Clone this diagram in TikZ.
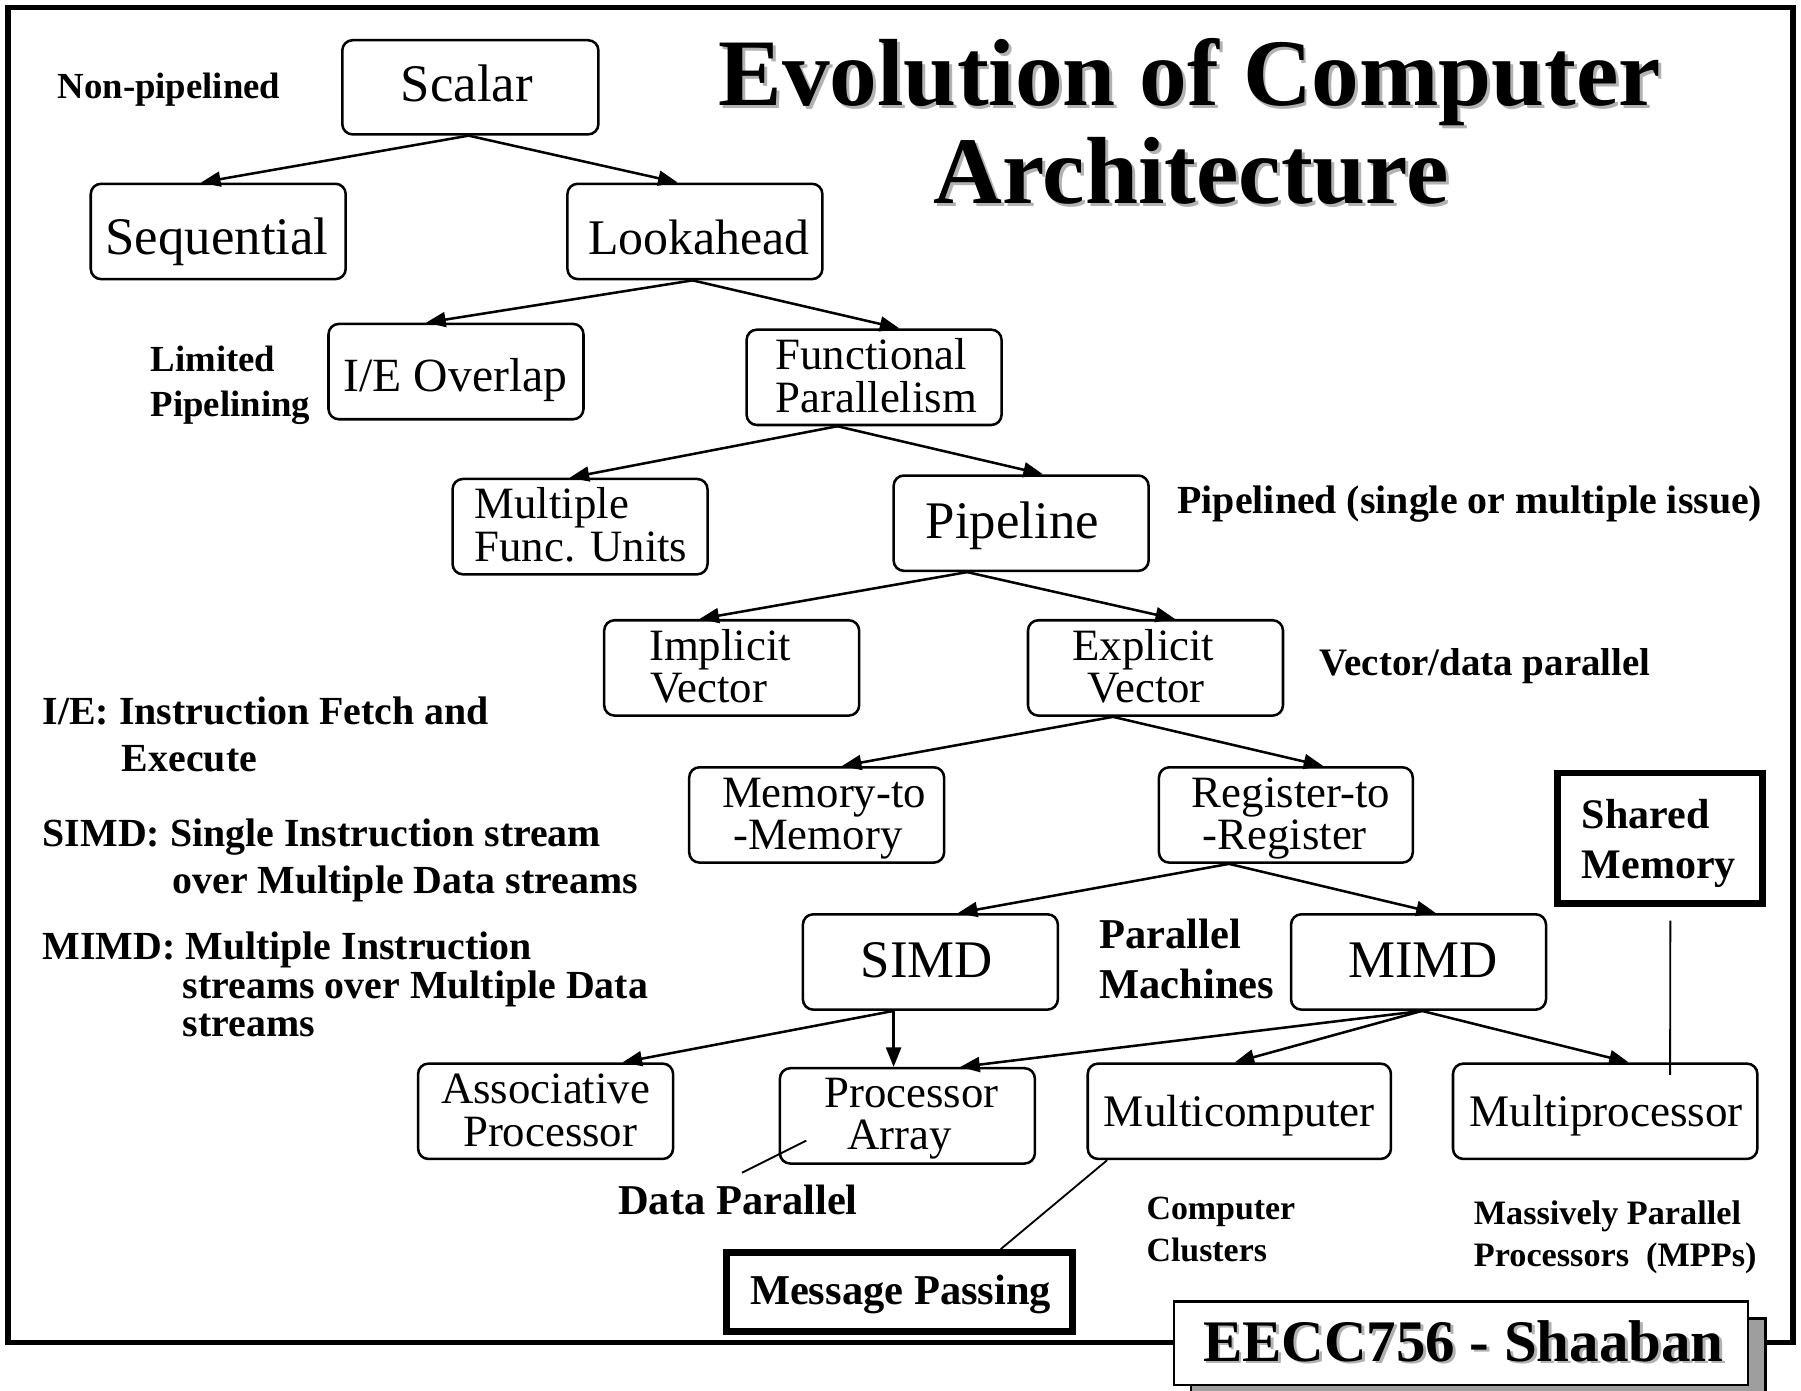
\documentclass[tikz,border=0pt]{standalone}
\usepackage{fontspec}
\setmainfont{Liberation Serif}
\usetikzlibrary{arrows.meta}
\newcommand{\fsz}[1]{\fontsize{#1pt}{#1pt}\selectfont}
\begin{document}
\begin{tikzpicture}[x=1pt,y=-1pt,
  box/.style={draw, rounded corners=9pt, line width=2.2pt, inner sep=0pt,
              minimum width=222pt, minimum height=83pt},
  heavybox/.style={draw, line width=6pt, inner sep=0pt},
  arr/.style={line width=2.2pt, -{Triangle[length=17pt,width=13pt]}},
  link/.style={line width=1.6pt},
  txt/.style={inner sep=0pt, anchor=base},
  ltxt/.style={inner sep=0pt, anchor=base west},
  big/.style={font=\fsz{46}},
  small/.style={font=\fsz{39}},
  note/.style={font=\bfseries\fsz{34.7}},
]
% page and outer frame
\clip (0,0) rectangle (1568,1211);
\fill[white] (0,0) rectangle (1568,1211);
\draw[line width=4.5pt] (7,6.5) rectangle (1561,1169);

% title with drop shadow
\node[txt, font=\bfseries\fsz{83}, text=black!30] (titleAs) at (1038.5,94.5) {Evolution of Computer};
\node[txt, font=\bfseries\fsz{83}, text=black!30] (titleBs) at (1039.5,179.5) {Architecture};
\node[txt, font=\bfseries\fsz{83}] (titleA) at (1036,92) {Evolution of Computer};
\node[txt, font=\bfseries\fsz{83}] (titleB) at (1037,177) {Architecture};

% boxes
\node[box] (scalar) at (409.5,76) [minimum width=223pt, minimum height=82pt] {};
\node[box] (seq)    at (190,201.5) {};
\node[box] (look)   at (605,201.5) {};
\node[box] (ieo)    at (397,323.5) {};
\node[box] (func)   at (761,328.5) {};
\node[box] (mfu)    at (505,458.5) {};
\node[box] (pipe)   at (889,455.5) {};
\node[box] (impl)   at (637,581.5) {};
\node[box] (expl)   at (1006,581.5) {};
\node[box] (mm)     at (711,709.5) {};
\node[box] (rr)     at (1119.5,709.5) [minimum width=221pt] {};
\node[box] (simd)   at (810,837.5) {};
\node[box] (mimd)   at (1235,837.5) {};
\node[box] (assoc)  at (475,967.5) {};
\node[box] (parr)   at (790,971.5) {};
\node[box] (mcomp)  at (1079,967.5) [minimum width=264pt] {};
\node[box] (mproc)  at (1397.5,967.5) [minimum width=265pt] {};

\node[heavybox, minimum width=178.5pt, minimum height=113.5pt] (shm) at (1445.25,729.75) {};
\node[heavybox, minimum width=301.5pt, minimum height=68.5pt] (msgp) at (783.25,1124.75) {};

% box texts
\node[txt, big] (tScalar) at (406.5,88.5) {Scalar};
\node[txt, big] (tSeq) at (189,222) {Sequential};
\node[txt, font=\fsz{43.4}] (tLook) at (608.5,222) {Lookahead};
\node[txt, font=\fsz{41.5}] (tIeo) at (396.5,341) {I/E Overlap};
\node[ltxt, small] (tFuncA) at (675,322) {Functional};
\node[ltxt, small] (tFuncB) at (675,359) {Parallelism};
\node[ltxt, small] (tMfuA) at (413,451) {Multiple};
\node[ltxt, small] (tMfuB) at (413,489) {Func. Units};
\node[txt, big] (tPipe) at (881.5,468.5) {Pipeline};
\node[ltxt, small] (tImplA) at (565,575) {Implicit};
\node[ltxt, small] (tImplB) at (566,612) {Vector};
\node[txt, small] (tExplA) at (995.5,575) {Explicit};
\node[txt, small] (tExplB) at (998,612) {Vector};
\node[txt, small] (tMmA) at (717.5,703) {Memory-to};
\node[txt, small] (tMmB) at (712,740) {-Memory};
\node[txt, small] (tRrA) at (1124,703) {Register-to};
\node[txt, small] (tRrB) at (1118.5,740) {-Register};
\node[txt, big] (tSimd) at (807,851) {SIMD};
\node[txt, big] (tMimd) at (1239,851) {MIMD};
\node[txt, small] (tAssocA) at (475,961) {Associative};
\node[txt, small] (tAssocB) at (479,998) {Processor};
\node[txt, small] (tParrA) at (793.5,964) {Processor};
\node[txt, small] (tParrB) at (783,1001) {Array};
\node[txt, font=\fsz{39.3}] (tMcomp) at (1079,981) {Multicomputer};
\node[txt, font=\fsz{39.3}] (tMproc) at (1398.5,981) {Multiprocessor};
\node[ltxt, font=\bfseries\fsz{36.6}] (tShmA) at (1377,721) {Shared};
\node[ltxt, font=\bfseries\fsz{36.6}] (tShmB) at (1377,764.6) {Memory};
\node[txt, font=\bfseries\fsz{37}] (tMsg) at (784,1136) {Message Passing};

% tree arrows
\draw[arr] ([xshift=-1.5pt]scalar.south) -- ([xshift=-15pt]seq.north);
\draw[arr] ([xshift=-1.5pt]scalar.south) -- ([xshift=-15pt]look.north);
\draw[arr] ([xshift=-2pt]look.south) -- ([xshift=-26pt]ieo.north);
\draw[arr] ([xshift=-2pt]look.south) -- ([xshift=22pt]func.north);
\draw[arr] ([xshift=-32pt]func.south) -- ([xshift=-9pt]mfu.north);
\draw[arr] ([xshift=-32pt]func.south) -- ([xshift=19pt]pipe.north);
\draw[arr] ([xshift=-47pt]pipe.south) -- ([xshift=-28pt]impl.north);
\draw[arr] ([xshift=-47pt]pipe.south) -- ([xshift=17pt]expl.north);
\draw[arr] ([xshift=-37pt]expl.south) -- ([xshift=22pt]mm.north);
\draw[arr] ([xshift=-37pt]expl.south) -- ([xshift=32.5pt]rr.north);
\draw[arr] ([xshift=-49.5pt]rr.south) -- ([xshift=24pt]simd.north);
\draw[arr] ([xshift=-49.5pt]rr.south) -- ([xshift=15pt]mimd.north);
\draw[arr] ([xshift=-32pt]simd.south) -- ([xshift=67pt]assoc.north);
\draw[arr] ([xshift=-32pt]simd.south) -- ([xshift=-12pt]parr.north);
\draw[arr] ([xshift=3pt]mimd.south) -- ([xshift=46pt]parr.north);
\draw[arr] ([xshift=3pt]mimd.south) -- ([xshift=-4pt]mcomp.north);
\draw[arr] ([xshift=3pt]mimd.south) -- ([xshift=20.5pt]mproc.north);

% plain pointer lines
\coordinate (dpEnd) at (646,1021);
\coordinate (dpTip) at (702,993);
\draw[link] (dpEnd) -- (dpTip);
\draw[link] ([xshift=18pt]mcomp.south west) -- ([xshift=88pt]msgp.north);
\draw[link] ([xshift=9pt,yshift=-12pt]shm.south) -- ([xshift=56.5pt,yshift=-11pt]mproc.north);

% side labels
\node[ltxt, font=\bfseries\fsz{32}] (lNonp) at (50,86) {Non-pipelined};
\node[ltxt, font=\bfseries\fsz{32}] (lLimA) at (131,323.5) {Limited};
\node[ltxt, font=\bfseries\fsz{32}] (lLimB) at (131,363) {Pipelining};
\node[ltxt, font=\bfseries\fsz{34.7}] (lPiped) at (1025,447) {Pipelined (single or multiple issue)};
\node[ltxt, font=\bfseries\fsz{33.9}] (lVec) at (1149,588) {Vector/data parallel};
\node[ltxt, note] (lIeA) at (37,631) {I/E: Instruction Fetch and};
\node[ltxt, note] (lIeB) at (106,672) {Execute};
\node[ltxt, note] (lSimdA) at (37,737) {SIMD: Single Instruction stream};
\node[ltxt, note] (lSimdB) at (150,778) {over Multiple Data streams};
\node[ltxt, note] (lMimdA) at (37,835.5) {MIMD: Multiple Instruction};
\node[ltxt, note] (lMimdB) at (159,869) {streams over Multiple Data};
\node[ltxt, note] (lMimdC) at (159,902) {streams};
\node[ltxt, font=\bfseries\fsz{37}] (lParA) at (957,825.5) {Parallel};
\node[ltxt, font=\bfseries\fsz{37}] (lParB) at (957,869) {Machines};
\node[ltxt, font=\bfseries\fsz{37}] (lData) at (538,1057) {Data Parallel};
\node[ltxt, font=\bfseries\fsz{29.5}] (lCompA) at (998,1062) {Computer};
\node[ltxt, font=\bfseries\fsz{29.5}] (lCompB) at (998,1098.5) {Clusters};
\node[ltxt, font=\bfseries\fsz{29.8}] (lMppA) at (1283,1066) {Massively Parallel};
\node[ltxt, font=\bfseries\fsz{29.8}] (lMppB) at (1283,1103) {Processors\ \ (MPPs)};

% footer tag with shadow
\draw[line width=2.2pt, fill=black!38] (1037,1148) rectangle (1537,1230);
\node[draw, fill=white, line width=2.2pt, inner sep=0pt, minimum width=500pt, minimum height=73pt]
  (tag) at (1272,1169.5) {};
\node[txt, font=\bfseries\fsz{51.3}, text=black!30] (tagTs) at (1276.5,1187.5) {EECC756 - Shaaban};
\node[txt, font=\bfseries\fsz{51.3}] (tagT) at (1274,1185) {EECC756 - Shaaban};
\end{tikzpicture}
\end{document}
